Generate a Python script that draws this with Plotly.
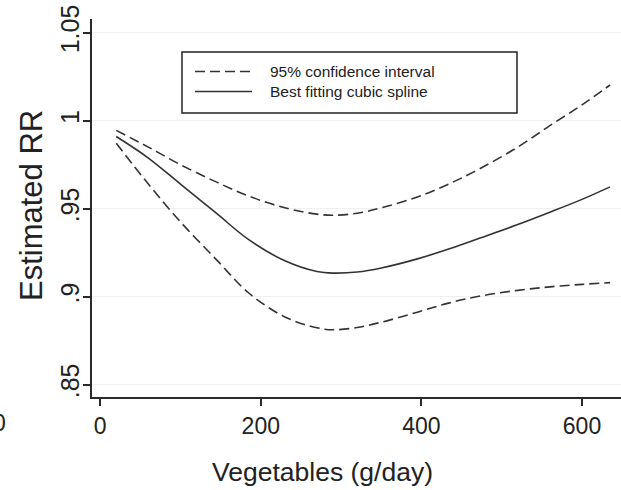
import plotly.graph_objects as go

# ---- data ----
veg = [20, 60, 100, 145, 185, 230, 270, 290, 320, 350, 395, 435, 475, 520, 560, 600, 635]
upper_ci = [0.9945, 0.9850, 0.9750, 0.9651, 0.9572, 0.9505, 0.9469, 0.9463, 0.9474,
            0.9505, 0.9567, 0.9642, 0.9733, 0.9850, 0.9972, 1.0090, 1.0203]
spline = [0.9910, 0.9788, 0.9640, 0.9473, 0.9324, 0.9204, 0.9143, 0.9134, 0.9140,
          0.9163, 0.9215, 0.9272, 0.9336, 0.9410, 0.9480, 0.9553, 0.9624]
lower_ci = [0.9872, 0.9640, 0.9425, 0.9209, 0.9021, 0.8885, 0.8823, 0.8812, 0.8825,
            0.8855, 0.8912, 0.8965, 0.9005, 0.9036, 0.9056, 0.9070, 0.9080]

y_ticks = [0.85, 0.90, 0.95, 1.00, 1.05]
y_ticktext = [".85", ".9", ".95", "1", "1.05"]
x_ticks = [0, 200, 400, 600]
x_ticktext = ["0", "200", "400", "600"]

legend_ci = "95% confidence interval"
legend_fit = "Best fitting cubic spline"
x_title = "Vegetables (g/day)"
y_title = "Estimated RR"

FONT = "Liberation Sans, Arial, sans-serif"
LINE = "#333333"
DASH = "10px,5px"

W, H = 621, 490
ML, MR, MT, MB = 92, 0, 19, 93
PW, PH = W - ML - MR, H - MT - MB


def px_x(p):
    return (p - ML) / PW


def px_y(p):
    return (H - MB - p) / PH


fig = go.Figure()
fig.add_trace(go.Scatter(x=veg, y=upper_ci, mode="lines", name=legend_ci,
                         line=dict(color=LINE, width=1.6, dash=DASH, shape="spline"),
                         showlegend=False))
fig.add_trace(go.Scatter(x=veg, y=lower_ci, mode="lines", name=legend_ci,
                         line=dict(color=LINE, width=1.6, dash=DASH, shape="spline"),
                         showlegend=False))
fig.add_trace(go.Scatter(x=veg, y=spline, mode="lines", name=legend_fit,
                         line=dict(color=LINE, width=1.6, shape="spline"),
                         showlegend=False))

shapes = [
    # legend box
    dict(type="rect", xref="paper", yref="paper",
         x0=px_x(182), x1=px_x(517), y0=px_y(113), y1=px_y(52),
         line=dict(color="#222", width=1.5), fillcolor="white", layer="above"),
    dict(type="line", xref="paper", yref="paper",
         x0=px_x(195), x1=px_x(252), y0=px_y(71.5), y1=px_y(71.5),
         line=dict(color=LINE, width=1.6, dash=DASH), layer="above"),
    dict(type="line", xref="paper", yref="paper",
         x0=px_x(195), x1=px_x(252), y0=px_y(91.5), y1=px_y(91.5),
         line=dict(color=LINE, width=1.6), layer="above"),
]

annotations = [
    dict(text=legend_ci, xref="paper", yref="paper", x=px_x(268), y=px_y(71.5),
         xanchor="left", yanchor="middle", showarrow=False,
         font=dict(family=FONT, size=15.5, color="#222")),
    dict(text=legend_fit, xref="paper", yref="paper", x=px_x(268), y=px_y(91.5),
         xanchor="left", yanchor="middle", showarrow=False,
         font=dict(family=FONT, size=15.5, color="#222")),
    dict(text=x_title, xref="paper", yref="paper", x=px_x(322), y=px_y(472),
         xanchor="center", yanchor="middle", showarrow=False,
         font=dict(family=FONT, size=26.5, color="#222")),
    dict(text=y_title, xref="paper", yref="paper", x=px_x(32), y=px_y(206),
         xanchor="center", yanchor="middle", showarrow=False, textangle=-90,
         font=dict(family=FONT, size=31, color="#222")),
    # fragment of a neighbouring panel's tick label, cut at the left edge
    dict(text="0", xref="paper", yref="paper", x=px_x(-1), y=px_y(423),
         xanchor="center", yanchor="middle", showarrow=False,
         font=dict(family=FONT, size=23, color="#222")),
]

fig.update_layout(
    width=W, height=H,
    margin=dict(l=ML, r=MR, t=MT, b=MB, pad=0),
    paper_bgcolor="white", plot_bgcolor="white",
    shapes=shapes, annotations=annotations,
    xaxis=dict(range=[-10.2, 648.6], tickvals=x_ticks, ticktext=x_ticktext,
               showgrid=False, zeroline=False, showline=True, linecolor="#2a2a2a",
               linewidth=2, ticks="outside", ticklen=7, tickwidth=1.5,
               tickcolor="#2a2a2a",
               tickfont=dict(family=FONT, size=23, color="#222")),
    yaxis=dict(range=[0.8430, 1.0578], tickvals=y_ticks, ticktext=y_ticktext,
               showgrid=True, gridcolor="#efefef", gridwidth=1, zeroline=False,
               showline=True, linecolor="#2a2a2a", linewidth=2, ticks="outside",
               ticklen=7, tickwidth=1.5, tickcolor="#2a2a2a", tickangle=-90,
               ticklabelstandoff=-6,
               tickfont=dict(family=FONT, size=25, color="#222")),
)

fig.write_html("out.html")
